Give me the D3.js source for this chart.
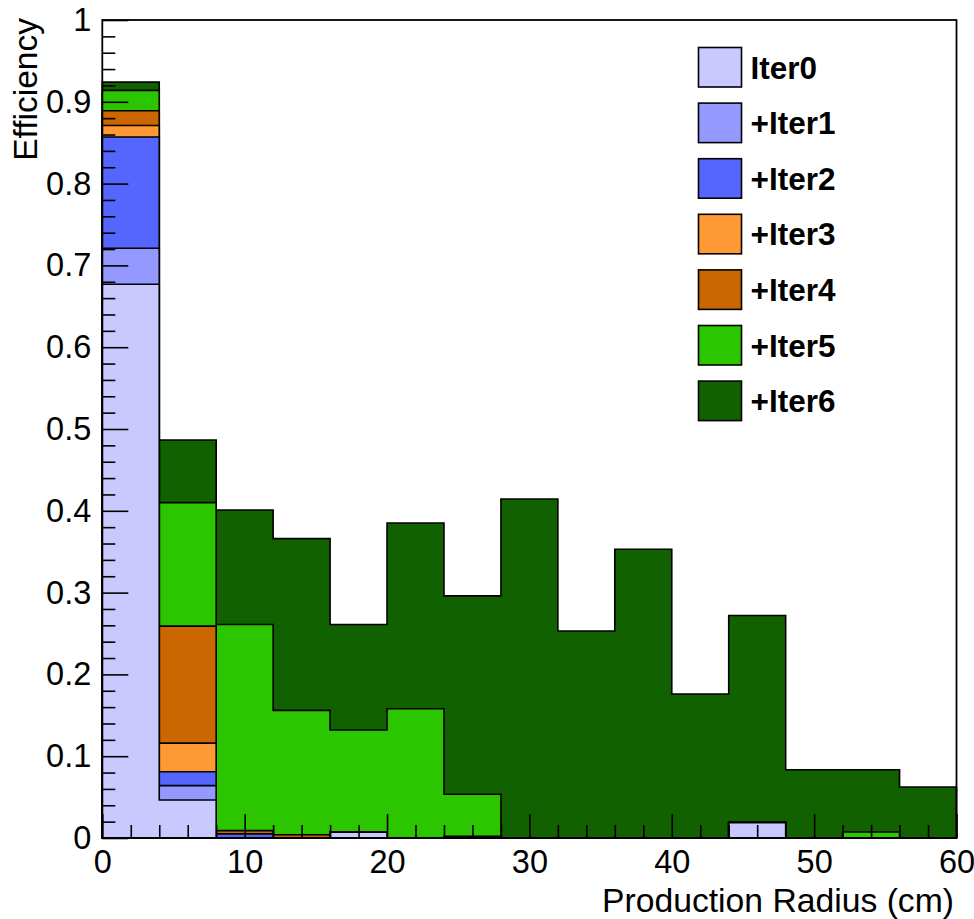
<!DOCTYPE html>
<html>
<head>
<meta charset="utf-8">
<script src="https://cdn.jsdelivr.net/npm/d3@7"></script>
<style>
  body { margin: 0; background: #fff; }
  svg { display: block; font-family: "Liberation Sans", Arial, Helvetica, sans-serif; }
</style>
</head>
<body>
<div id="wrapper"></div>
<script>
// bin edges (cm)
const binEdges = [0, 4, 8, 12, 16, 20, 24, 28, 32, 36, 40, 44, 48, 52, 56, 60]

// cumulative efficiency after each iteration, one value per bin
const iter0 = [0.677, 0.0465, 0, 0, 0.007, 0, 0, 0, 0, 0, 0, 0.0188, 0, 0, 0]
const iter1 = [0.721, 0.064, 0, 0, 0.007, 0, 0, 0, 0, 0, 0, 0.0188, 0, 0, 0]
const iter2 = [0.857, 0.081, 0.005, 0, 0.007, 0, 0, 0, 0, 0, 0, 0.0188, 0, 0, 0]
const iter3 = [0.871, 0.116, 0.005, 0, 0.007, 0, 0, 0, 0, 0, 0, 0.0188, 0, 0, 0]
const iter4 = [0.889, 0.259, 0.009, 0.004, 0.007, 0, 0.002, 0, 0, 0, 0, 0.0188, 0, 0, 0]
const iter5 = [0.914, 0.410, 0.261, 0.156, 0.132, 0.158, 0.0535, 0, 0, 0, 0, 0.0188, 0, 0.0073, 0]
const iter6 = [0.924, 0.4866, 0.401, 0.366, 0.261, 0.385, 0.296, 0.4144, 0.253, 0.353, 0.176, 0.272, 0.0835, 0.0835, 0.0623]

const layerNames = ['Iter0', '+Iter1', '+Iter2', '+Iter3', '+Iter4', '+Iter5', '+Iter6']
const layerColors = ['#c9c9ff', '#9499ff', '#5566ff', '#ff9933', '#cc6600', '#2cc600', '#116100']
const layerValues = [iter0, iter1, iter2, iter3, iter4, iter5, iter6]

const xTickValues = [0, 10, 20, 30, 40, 50, 60]
const xMinorTicks = [2, 4, 6, 8, 12, 14, 16, 18, 22, 24, 26, 28, 32, 34, 36, 38, 42, 44, 46, 48, 52, 54, 56, 58]
const yTickValues = [0, 0.1, 0.2, 0.3, 0.4, 0.5, 0.6, 0.7, 0.8, 0.9, 1]
const yTickLabels = ['0', '0.1', '0.2', '0.3', '0.4', '0.5', '0.6', '0.7', '0.8', '0.9', '1']
const yMinorTicks = d3.range(0, 51).map(i => i / 50).filter(v => Math.round(v * 50) % 5 !== 0)

const xTitle = 'Production Radius (cm)'
const yTitle = 'Efficiency'

const dimensions = {
  width: 974,
  height: 919,
  margin: { top: 20, right: 17.5, bottom: 81, left: 102.3 }
}
dimensions.boundedWidth = dimensions.width - dimensions.margin.left - dimensions.margin.right
dimensions.boundedHeight = dimensions.height - dimensions.margin.top - dimensions.margin.bottom

const svg = d3.select('#wrapper')
  .append('svg')
  .attr('width', dimensions.width)
  .attr('height', dimensions.height)

const bounds = svg.append('g')
  .attr('transform', `translate(${dimensions.margin.left},${dimensions.margin.top})`)

const xScale = d3.scaleLinear().domain([0, 60]).range([0, dimensions.boundedWidth])
const yScale = d3.scaleLinear().domain([0, 1]).range([dimensions.boundedHeight, 0])

// stacked histograms: draw the full sum first, then each lower sum on top
const areaGenerator = d3.area()
  .curve(d3.curveStepAfter)
  .x(d => xScale(d.x))
  .y0(yScale(0))
  .y1(d => yScale(d.v))

const toPoints = vals => binEdges.map((e, i) => ({ x: e, v: vals[Math.min(i, vals.length - 1)] }))

const layers = layerValues.map((vals, i) => ({ name: layerNames[i], color: layerColors[i], vals }))

bounds.append('g')
  .selectAll('path')
  .data(layers.slice().reverse())
  .enter().append('path')
  .attr('d', d => areaGenerator(toPoints(d.vals)))
  .attr('fill', d => d.color)
  .attr('stroke', '#000')
  .attr('stroke-width', 1.6)
  .attr('stroke-linejoin', 'miter')

// axes
const fontFamily = '"Liberation Sans", Arial, Helvetica, sans-serif'

const xAxis = bounds.append('g')
  .attr('transform', `translate(0,${dimensions.boundedHeight})`)
  .call(d3.axisBottom(xScale).tickValues(xTickValues).tickSize(-24).tickSizeOuter(0).tickPadding(12))
xAxis.select('.domain').remove()
xAxis.selectAll('line').attr('stroke-width', 1.6)
xAxis.selectAll('text').attr('font-size', 32.5).attr('font-family', fontFamily).attr('fill', '#000')

const xMinor = bounds.append('g')
  .attr('transform', `translate(0,${dimensions.boundedHeight})`)
  .call(d3.axisBottom(xScale).tickValues(xMinorTicks).tickSize(-13).tickSizeOuter(0).tickFormat(''))
xMinor.select('.domain').remove()
xMinor.selectAll('line').attr('stroke-width', 1.6)

const yAxis = bounds.append('g')
  .call(d3.axisLeft(yScale).tickValues(yTickValues).tickSize(-26).tickSizeOuter(0).tickPadding(11)
    .tickFormat((d, i) => yTickLabels[i]))
yAxis.select('.domain').remove()
yAxis.selectAll('line').attr('stroke-width', 1.6)
yAxis.selectAll('text').attr('font-size', 32.5).attr('font-family', fontFamily).attr('fill', '#000')

const yMinor = bounds.append('g')
  .call(d3.axisLeft(yScale).tickValues(yMinorTicks).tickSize(-13).tickSizeOuter(0).tickFormat(''))
yMinor.select('.domain').remove()
yMinor.selectAll('line').attr('stroke-width', 1.6)

// frame
bounds.append('rect')
  .attr('x', 0)
  .attr('y', 0)
  .attr('width', dimensions.boundedWidth)
  .attr('height', dimensions.boundedHeight)
  .attr('fill', 'none')
  .attr('stroke', '#000')
  .attr('stroke-width', 1.8)

// axis titles
svg.append('text')
  .attr('x', 954)
  .attr('y', 912)
  .attr('text-anchor', 'end')
  .attr('font-size', 33.7)
  .attr('fill', '#000')
  .text(xTitle)

svg.append('text')
  .attr('transform', 'translate(37,18) rotate(-90)')
  .attr('text-anchor', 'end')
  .attr('font-size', 33.5)
  .attr('fill', '#000')
  .text(yTitle)

// legend
const legend = svg.append('g')
  .attr('transform', 'translate(698.5,47.5)')

const legendItems = legend.selectAll('g')
  .data(layers)
  .enter().append('g')
  .attr('transform', (d, i) => `translate(0,${i * 55.6})`)

legendItems.append('rect')
  .attr('width', 43)
  .attr('height', 39.5)
  .attr('fill', d => d.color)
  .attr('stroke', '#000')
  .attr('stroke-width', 1.6)

legendItems.append('text')
  .attr('x', 52)
  .attr('y', 31)
  .attr('font-size', 31.5)
  .attr('font-weight', 'bold')
  .attr('fill', '#000')
  .text(d => d.name)
</script>
</body>
</html>
